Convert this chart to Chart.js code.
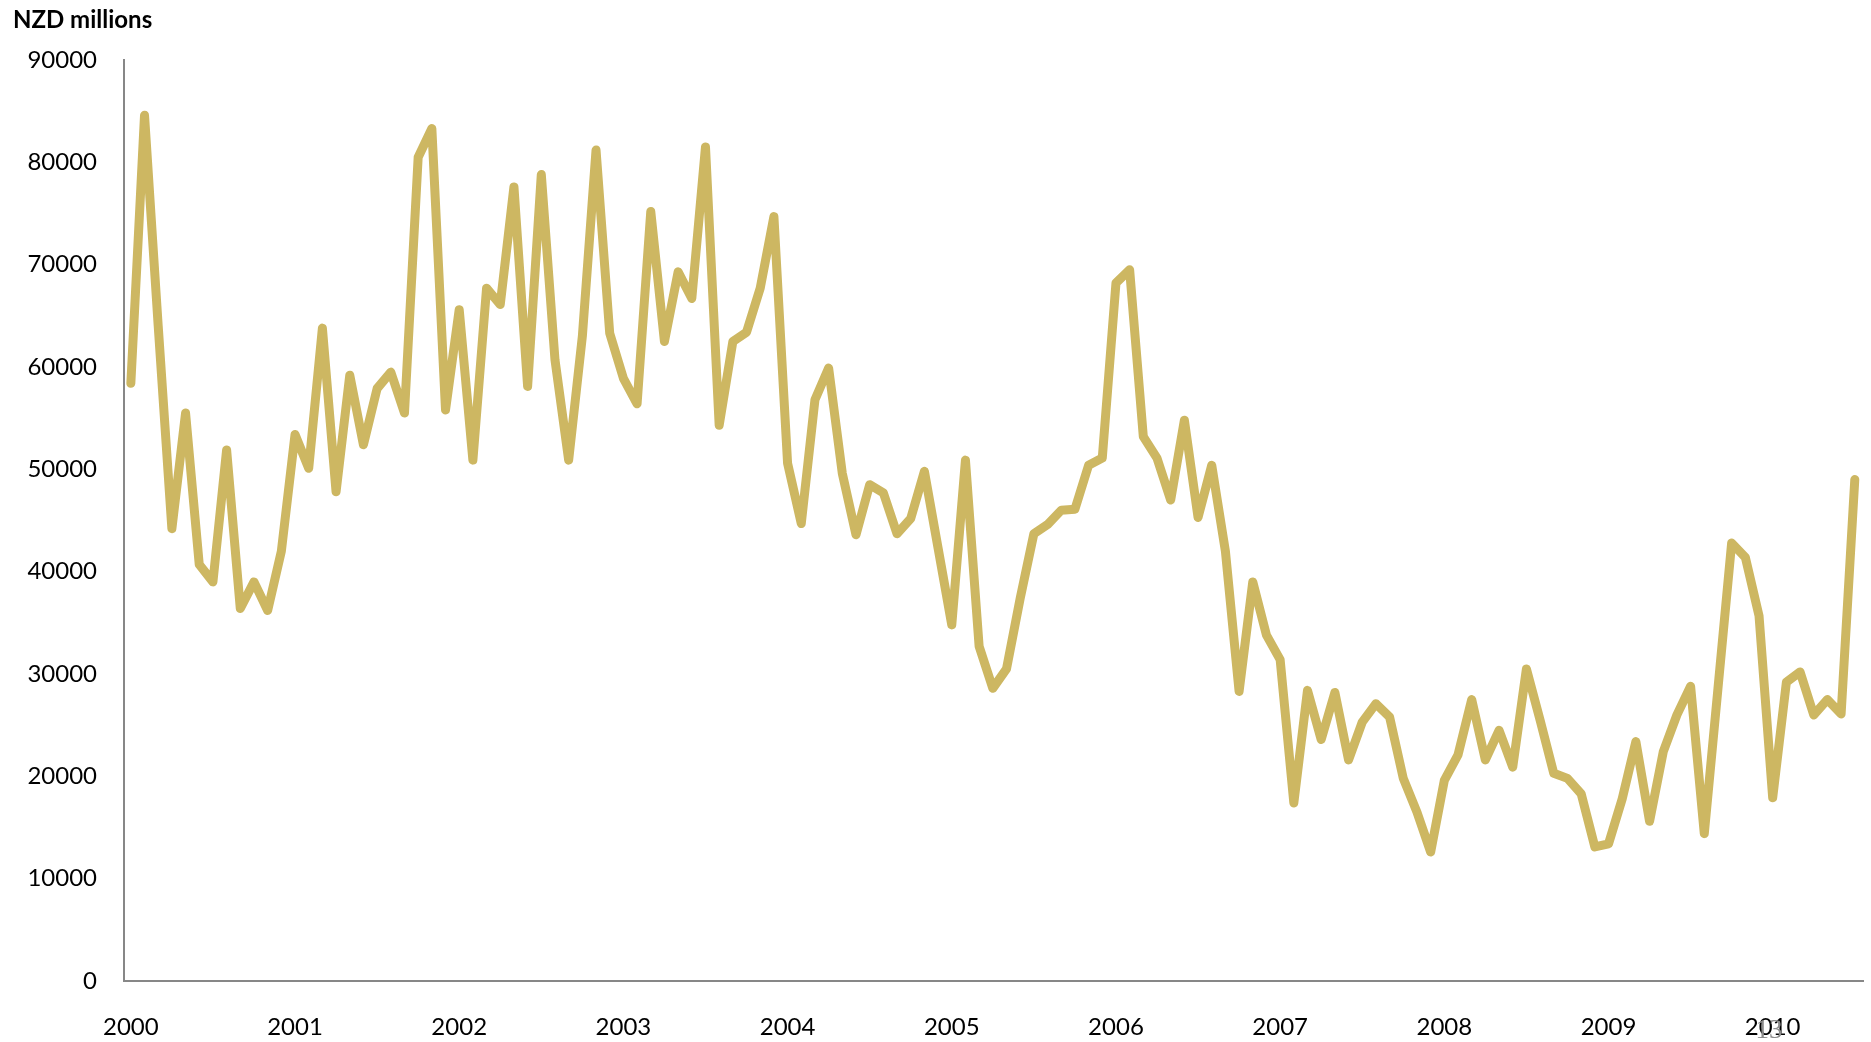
<!DOCTYPE html>
<html>
<head>
<meta charset="utf-8">
<title>NZD millions</title>
<script src="https://cdn.jsdelivr.net/npm/chart.js@4.4.1/dist/chart.umd.min.js"></script>
<style>
  html, body { margin: 0; padding: 0; background: #fff; }
  #chart { display: block; }
</style>
</head>
<body>
<canvas id="chart" width="1871" height="1042"></canvas>
<script>
// monthly values, Jan 2000 - Jul 2010
const years = ['2000', '2001', '2002', '2003', '2004', '2005', '2006', '2007', '2008', '2009', '2010'];
const values = [
  58400, 84600, 64000, 44200, 55500, 40700, 39000, 51900, 36400, 39000, 36200, 42000,
  53400, 50100, 63800, 47800, 59200, 52400, 57900, 59500, 55500, 80500, 83300, 55800,
  65600, 50900, 67700, 66100, 77600, 58100, 78800, 60700, 50900, 63000, 81200, 63300,
  58900, 56400, 75200, 62500, 69300, 66700, 81500, 54300, 62500, 63400, 67700, 74700,
  50600, 44700, 56800, 59900, 49600, 43600, 48500, 47700, 43700, 45200, 49800, 42300,
  34800, 50900, 32700, 28600, 30500, 37400, 43700, 44600, 46000, 46100, 50400, 51100,
  68200, 69500, 53200, 51100, 47000, 54800, 45300, 50400, 42000, 28300, 39000, 33800,
  31400, 17400, 28400, 23600, 28200, 21600, 25300, 27100, 25800, 19800, 16500, 12600,
  19600, 22100, 27500, 21600, 24500, 20900, 30500, 25500, 20300, 19800, 18300, 13100,
  13400, 17800, 23400, 15600, 22400, 26000, 28800, 14400, 28600, 42800, 41400, 35700,
  17900, 29200, 30200, 26000, 27500, 26100, 49000
];
const yTicks = [0, 10000, 20000, 30000, 40000, 50000, 60000, 70000, 80000, 90000];

const unitLabel = 'NZD millions';
const pageNumber = '13';

const overlay = {
  id: 'overlay',
  afterDraw(chart) {
    const c = chart.ctx;
    c.save();
    c.fillStyle = '#000';
    c.font = 'bold 24px Lato';
    c.textAlign = 'left';
    c.textBaseline = 'alphabetic';
    c.fillText(unitLabel, 13, 28);
    c.fillStyle = '#8c8c8c';
    c.font = '27px "Liberation Serif"';
    c.textAlign = 'center';
    c.fillText(pageNumber, 1769, 1038);
    c.restore();
  }
};

const ctx = document.getElementById('chart').getContext('2d');
new Chart(ctx, {
  type: 'line',
  data: {
    datasets: [{
      data: values.map((v, i) => ({ x: i, y: v })),
      borderColor: '#cdb762',
      borderWidth: 9,
      borderCapStyle: 'round',
      borderJoinStyle: 'round',
      pointRadius: 0,
      tension: 0,
      fill: false,
    }],
  },
  options: {
    responsive: false,
    animation: false,
    layout: { padding: { top: 60, right: 8, left: 0, bottom: 0 } },
    scales: {
      x: {
        type: 'linear',
        min: -0.5,
        max: 126.6,
        afterBuildTicks: (scale) => {
          scale.ticks = years.map((y, k) => ({ value: k * 12 }));
        },
        afterFit: (scale) => { scale.height = 61; },
        ticks: {
          autoSkip: false,
          maxRotation: 0,
          padding: 32,
          color: '#000',
          font: { family: 'Lato', size: 24 },
          callback: (v) => years[Math.round(v / 12)],
        },
        grid: { display: false, drawTicks: false },
        border: { display: true, color: '#878787', width: 2 },
      },
      y: {
        min: 0,
        max: 90000,
        afterBuildTicks: (scale) => {
          scale.ticks = yTicks.map((v) => ({ value: v }));
        },
        afterFit: (scale) => { scale.width = 124; },
        ticks: {
          padding: 27,
          color: '#000',
          font: { family: 'Lato', size: 24 },
          callback: (v) => String(v),
        },
        grid: { display: false, drawTicks: false },
        border: { display: true, color: '#878787', width: 2 },
      },
    },
    plugins: {
      legend: { display: false },
      tooltip: { enabled: false },
    },
  },
  plugins: [overlay],
});
</script>
</body>
</html>
